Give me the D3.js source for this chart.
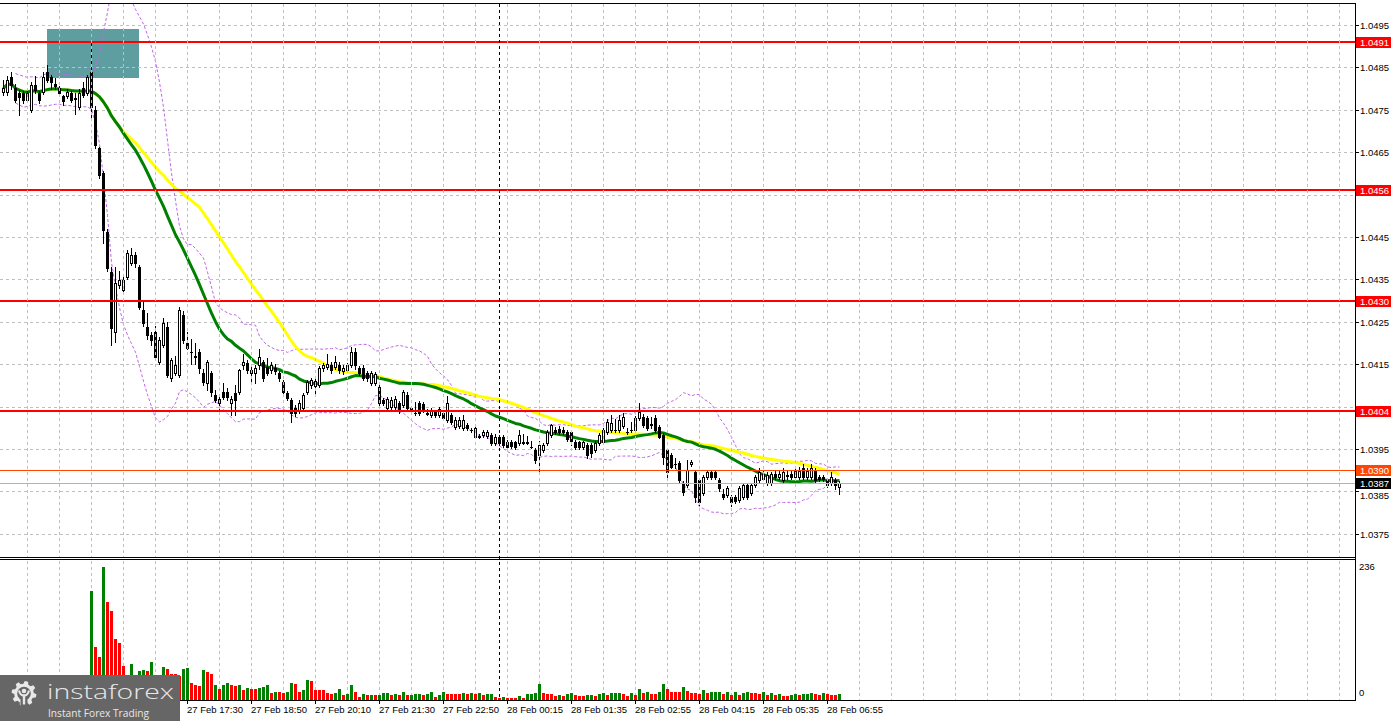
<!DOCTYPE html>
<html><head><meta charset="utf-8">
<script src="https://cdn.jsdelivr.net/npm/d3@7"></script>
<style>html,body{margin:0;padding:0;background:#fff;}svg{display:block;}</style>
</head><body>
<svg id="chart" width="1396" height="721"></svg>
<script>
// ---------- DATA (EURUSD M5) ----------
const opens = [1.04792,1.04792,1.04827,1.04801,1.04790,1.04790,1.04773,1.04750,1.04809,1.04790,
1.04792,1.04840,1.04827,1.04810,1.04801,1.04782,1.04782,1.04790,1.04778,1.04757,
1.04801,1.04790,1.04840,1.04750,1.04660,1.04600,1.04462,1.04368,1.04226,1.04337,
1.04325,1.04356,1.04389,1.04408,1.04379,1.04278,1.04238,1.04219,1.04226,1.04155,
1.04195,1.04238,1.04118,1.04130,1.04125,1.04266,1.04200,1.04180,1.04170,1.04179,
1.04130,1.04106,1.04130,1.04078,1.04059,1.04085,1.04085,1.04059,1.04082,1.04085,
1.04148,1.04153,1.04130,1.04130,1.04148,1.04155,1.04143,1.04137,1.04141,1.04130,
1.04108,1.04082,1.04066,1.04047,1.04040,1.04047,1.04085,1.04101,1.04099,1.04101,
1.04141,1.04143,1.04148,1.04143,1.04148,1.04134,1.04137,1.04148,1.04179,1.04141,
1.04141,1.04130,1.04106,1.04106,1.04096,1.04066,1.04047,1.04050,1.04050,1.04059,
1.04054,1.04078,1.04047,1.04036,1.04059,1.04056,1.04034,1.04030,1.04037,1.04030,
1.04035,1.04019,1.04030,1.04002,1.04005,1.04000,1.04007,1.03996,1.03979,1.03980,
1.03983,1.03980,1.03983,1.03965,1.03979,1.03979,1.03967,1.03967,1.03967,1.03965,
1.03966,1.03966,1.03956,1.03948,1.03936,1.03948,1.03965,1.03983,1.03995,1.03998,
1.03996,1.03990,1.03990,1.03967,1.03967,1.03955,1.03960,1.03960,1.03948,1.03965,
1.03967,1.03990,1.03995,1.03996,1.03995,1.04005,1.03991,1.03995,1.03995,1.04023,
1.04026,1.04023,1.04008,1.04023,1.04002,1.03983,1.03948,1.03936,1.03915,1.03917,
1.03870,1.03865,1.03915,1.03896,1.03877,1.03847,1.03884,1.03896,1.03896,1.03877,
1.03844,1.03842,1.03837,1.03837,1.03830,1.03837,1.03865,1.03847,1.03865,1.03877,
1.03880,1.03870,1.03870,1.03892,1.03885,1.03877,1.03888,1.03892,1.03884,1.03884,
1.03906,1.03884,1.03884,1.03901,1.03884,1.03884,1.03877,1.03870,1.03877,1.03861];

const highs = [1.04820,1.04830,1.04838,1.04810,1.04796,1.04795,1.04800,1.04815,1.04830,1.04795,
1.04838,1.04855,1.04832,1.04825,1.04806,1.04786,1.04800,1.04795,1.04790,1.04800,
1.04815,1.04832,1.04910,1.04760,1.04662,1.04605,1.04470,1.04379,1.04379,1.04370,
1.04360,1.04419,1.04425,1.04415,1.04385,1.04300,1.04270,1.04225,1.04240,1.04215,
1.04260,1.04250,1.04165,1.04170,1.04285,1.04275,1.04225,1.04210,1.04200,1.04185,
1.04140,1.04160,1.04135,1.04090,1.04072,1.04105,1.04095,1.04075,1.04100,1.04140,
1.04175,1.04160,1.04145,1.04148,1.04185,1.04160,1.04165,1.04155,1.04150,1.04135,
1.04112,1.04088,1.04070,1.04055,1.04065,1.04082,1.04112,1.04118,1.04115,1.04145,
1.04152,1.04175,1.04155,1.04170,1.04155,1.04148,1.04152,1.04190,1.04188,1.04146,
1.04148,1.04135,1.04135,1.04132,1.04100,1.04070,1.04072,1.04072,1.04075,1.04064,
1.04090,1.04084,1.04052,1.04060,1.04064,1.04060,1.04045,1.04048,1.04042,1.04050,
1.04040,1.04075,1.04036,1.04025,1.04025,1.04030,1.04012,1.04000,1.04005,1.03985,
1.03995,1.03995,1.03988,1.03985,1.03984,1.03984,1.03972,1.03972,1.03970,1.03995,
1.03985,1.03980,1.03970,1.03952,1.03968,1.03965,1.03995,1.04010,1.04002,1.04004,
1.04002,1.03995,1.03995,1.03972,1.03970,1.03970,1.03965,1.03964,1.03970,1.03988,
1.04000,1.04020,1.04030,1.04020,1.04030,1.04035,1.04000,1.04015,1.04028,1.04058,
1.04032,1.04028,1.04025,1.04030,1.04006,1.03988,1.03952,1.03940,1.03930,1.03922,
1.03874,1.03925,1.03925,1.03900,1.03882,1.03890,1.03900,1.03900,1.03900,1.03882,
1.03855,1.03862,1.03842,1.03842,1.03862,1.03870,1.03870,1.03870,1.03890,1.03905,
1.03900,1.03895,1.03895,1.03900,1.03900,1.03905,1.03900,1.03898,1.03905,1.03908,
1.03915,1.03905,1.03915,1.03906,1.03890,1.03890,1.03882,1.03895,1.03882,1.03875];

const lows = [1.04785,1.04785,1.04800,1.04768,1.04738,1.04765,1.04768,1.04745,1.04790,1.04765,
1.04788,1.04815,1.04800,1.04798,1.04785,1.04762,1.04778,1.04768,1.04740,1.04752,
1.04780,1.04785,1.04730,1.04660,1.04590,1.04436,1.04370,1.04195,1.04202,1.04330,
1.04318,1.04350,1.04385,1.04380,1.04280,1.04240,1.04210,1.04195,1.04160,1.04150,
1.04190,1.04120,1.04110,1.04125,1.04120,1.04200,1.04185,1.04150,1.04150,1.04130,
1.04100,1.04090,1.04075,1.04060,1.04040,1.04068,1.04065,1.04030,1.04030,1.04080,
1.04140,1.04130,1.04110,1.04105,1.04140,1.04110,1.04125,1.04130,1.04128,1.04110,
1.04080,1.04065,1.04015,1.04028,1.04035,1.04042,1.04080,1.04095,1.04075,1.04096,
1.04135,1.04138,1.04130,1.04138,1.04130,1.04128,1.04132,1.04144,1.04140,1.04125,
1.04112,1.04110,1.04100,1.04100,1.04055,1.04055,1.04040,1.04045,1.04045,1.04035,
1.04050,1.04042,1.04035,1.04030,1.04030,1.04038,1.04030,1.04026,1.04026,1.04026,
1.04018,1.04014,1.04008,1.03998,1.04000,1.03996,1.03995,1.03990,1.03975,1.03975,
1.03978,1.03975,1.03960,1.03960,1.03960,1.03955,1.03950,1.03952,1.03950,1.03960,
1.03962,1.03962,1.03952,1.03918,1.03896,1.03944,1.03960,1.03978,1.03985,1.03985,
1.03985,1.03970,1.03960,1.03950,1.03950,1.03950,1.03930,1.03932,1.03944,1.03960,
1.03962,1.03985,1.03990,1.03990,1.03990,1.04000,1.03985,1.03990,1.03990,1.04018,
1.04002,1.03995,1.04000,1.03990,1.03975,1.03915,1.03880,1.03905,1.03905,1.03870,
1.03842,1.03860,1.03910,1.03825,1.03818,1.03842,1.03880,1.03880,1.03880,1.03852,
1.03832,1.03838,1.03815,1.03822,1.03826,1.03832,1.03832,1.03842,1.03860,1.03872,
1.03876,1.03866,1.03866,1.03880,1.03880,1.03872,1.03880,1.03880,1.03880,1.03880,
1.03880,1.03880,1.03880,1.03872,1.03875,1.03875,1.03860,1.03865,1.03855,1.03845];

const closes = [1.04801,1.04820,1.04809,1.04773,1.04780,1.04773,1.04790,1.04809,1.04797,1.04773,
1.04827,1.04820,1.04815,1.04805,1.04790,1.04771,1.04792,1.04773,1.04775,1.04790,
1.04785,1.04827,1.04757,1.04667,1.04596,1.04467,1.04377,1.04236,1.04342,1.04349,
1.04349,1.04412,1.04408,1.04389,1.04285,1.04247,1.04219,1.04207,1.04167,1.04207,
1.04247,1.04125,1.04160,1.04148,1.04278,1.04207,1.04188,1.04178,1.04168,1.04141,
1.04108,1.04155,1.04085,1.04066,1.04068,1.04073,1.04073,1.04068,1.04066,1.04137,
1.04155,1.04137,1.04137,1.04141,1.04167,1.04118,1.04130,1.04148,1.04134,1.04118,
1.04085,1.04070,1.04035,1.04035,1.04059,1.04078,1.04108,1.04113,1.04110,1.04141,
1.04148,1.04150,1.04137,1.04155,1.04137,1.04141,1.04148,1.04179,1.04148,1.04130,
1.04118,1.04118,1.04130,1.04128,1.04059,1.04059,1.04068,1.04066,1.04068,1.04040,
1.04085,1.04047,1.04040,1.04034,1.04035,1.04042,1.04033,1.04042,1.04030,1.04044,
1.04023,1.04059,1.04014,1.04019,1.04019,1.04019,1.04000,1.03995,1.04000,1.03979,
1.03990,1.03990,1.03965,1.03979,1.03965,1.03960,1.03955,1.03958,1.03955,1.03983,
1.03965,1.03964,1.03955,1.03924,1.03960,1.03960,1.03990,1.04007,1.03990,1.03990,
1.03990,1.03974,1.03968,1.03955,1.03955,1.03967,1.03936,1.03940,1.03965,1.03983,
1.03995,1.04014,1.04012,1.03995,1.04019,1.04026,1.03990,1.03996,1.04023,1.04037,
1.04007,1.04000,1.04007,1.03995,1.03979,1.03931,1.03896,1.03908,1.03914,1.03877,
1.03849,1.03901,1.03920,1.03837,1.03825,1.03884,1.03896,1.03884,1.03884,1.03858,
1.03837,1.03858,1.03825,1.03828,1.03858,1.03865,1.03837,1.03865,1.03884,1.03896,
1.03892,1.03888,1.03891,1.03885,1.03892,1.03896,1.03887,1.03885,1.03898,1.03898,
1.03884,1.03898,1.03906,1.03877,1.03880,1.03880,1.03865,1.03884,1.03865,1.03870];

const volumes = [18,22,15,20,17,25,19,28,21,16,
30,24,20,14,18,22,17,15,24,20,
26,21,194,94,76,236,174,158,108,101,
61,40,63,40,52,54,51,67,38,43,
58,55,47,46,43,55,57,30,26,25,
54,50,46,26,20,27,31,26,24,26,
17,21,20,20,21,23,26,13,15,14,
12,15,31,29,15,17,35,33,18,18,
18,13,11,13,20,9,11,26,15,6,
11,8,9,8,9,13,13,9,11,9,
15,8,9,11,11,9,11,15,6,9,
14,11,11,11,11,13,11,13,11,13,
9,11,11,5,4,5,4,4,4,7,
4,10,10,13,28,13,11,10,7,8,
7,10,13,8,7,7,9,9,7,11,
13,8,12,12,13,11,7,12,8,20,
12,14,11,11,15,28,20,14,14,14,
23,16,12,12,11,17,12,15,15,15,
10,15,8,14,8,12,14,13,13,11,
14,8,12,8,10,7,7,8,11,8,
11,11,12,11,8,12,10,8,8,10];

// 1 = green volume bar, 0 = red volume bar
const volumeUp = [1,1,0,1,0,1,0,1,0,0, 1,0,0,0,1,1,0,0,1,0,
1,0,1,0,0,1,0,0,0,0, 0,0,1,0,1,1,0,1,0,1,
1,0,0,0,0,1,1,0,0,0, 1,0,0,1,0,1,1,0,0,1,
0,1,0,0,1,1,1,0,1,0, 0,1,1,0,0,1,1,0,0,0,
0,0,0,1,1,0,1,1,0,0, 1,0,1,0,1,1,1,0,1,0,
1,0,1,1,1,0,1,1,0,1, 1,0,0,0,0,1,0,1,0,1,
0,1,1,0,0,1,0,0,0,1, 0,1,1,1,1,0,0,0,0,1,
0,1,1,0,0,0,1,1,0,1, 1,0,1,1,1,0,0,1,0,1,
0,1,0,0,1,1,0,0,0,0, 1,0,0,0,0,1,0,1,1,1,
0,1,0,1,0,1,1,0,0,0, 1,0,1,0,1,0,0,1,1,0,
1,1,1,0,0,1,0,0,0,1];

const priceTicks = [1.0375,1.0385,1.0395,1.0405,1.0415,1.0425,1.0435,1.0445,1.0455,1.0465,1.0475,1.0485,1.0495];
const hiddenTickLabels = [1.0405,1.0455];                 // covered by the level tags in the picture
const levelPrices = [1.0491,1.0456,1.0430,1.0404];           // red support/resistance lines
const orangeLevel = 1.0390;
const lastPrice = 1.0387;
const timeLabels = ["27 Feb 17:30","27 Feb 18:50","27 Feb 20:10","27 Feb 21:30",
  "27 Feb 22:50","28 Feb 00:15","28 Feb 01:35","28 Feb 02:55","28 Feb 04:15","28 Feb 05:35","28 Feb 06:55"];
const timeLabelBars = [46,62,78,94,110,126,142,158,174,190,206];
const daySeparatorBar = 124;
const zoneBox = {fromBar: 11, toBar: 34, top: 1.04940, bottom: 1.04825};
const volumeMax = 236;

// ---------- LAYOUT ----------
const svg = d3.select("#chart");
const plotR = 1355;
const mainTop = 3, mainBot = 557, volTop = 560, volBot = 700;
const x = d3.scaleLinear().domain([0, 1]).range([3.5, 7.5]);
const y = d3.scaleLinear().domain([1.0375, 1.0495]).range([533.9, 25]);
const yv = d3.scaleLinear().domain([0, volumeMax]).range([volBot, 567]);
const FONT = "'Liberation Sans', Arial, sans-serif";
const px = v => Math.round(v) + 0.5;

svg.append("rect").attr("width",1396).attr("height",721).attr("fill","#fff");

const defs = svg.append("defs");
defs.append("clipPath").attr("id","mainClip").append("rect")
  .attr("x",0).attr("y",mainTop+1).attr("width",plotR).attr("height",mainBot-mainTop-1);

const main = svg.append("g").attr("clip-path","url(#mainClip)");

// zone box
main.append("rect")
  .attr("x", x(zoneBox.fromBar)-0.5).attr("y", Math.round(y(zoneBox.top)))
  .attr("width", x(zoneBox.toBar)-x(zoneBox.fromBar))
  .attr("height", Math.round(y(zoneBox.bottom))-Math.round(y(zoneBox.top)))
  .attr("fill","#5f9ea0");

// grid
const gridColor = "#c0c0c0";
main.selectAll("line.hg").data(priceTicks).join("line")
  .attr("x1",0).attr("x2",plotR).attr("y1",d=>px(y(d))).attr("y2",d=>px(y(d)))
  .attr("stroke",gridColor).attr("stroke-dasharray","3,3");
const vgrid = d3.range(6, 400, 8).filter(i => x(i) < plotR);
svg.selectAll("line.vg").data(vgrid).join("line")
  .attr("x1",d=>x(d)).attr("x2",d=>x(d)).attr("y1",mainTop+1).attr("y2",mainBot)
  .attr("stroke",gridColor).attr("stroke-dasharray","3,3");
svg.selectAll("line.vg2").data(vgrid).join("line")
  .attr("x1",d=>x(d)).attr("x2",d=>x(d)).attr("y1",volTop+1).attr("y2",volBot)
  .attr("stroke",gridColor).attr("stroke-dasharray","3,3");

// day separator
svg.append("line").attr("x1",x(daySeparatorBar)).attr("x2",x(daySeparatorBar))
  .attr("y1",mainTop+1).attr("y2",volBot).attr("stroke","#000").attr("stroke-dasharray","3,3");

// indicators from closes (MA 30 green, MA 50 yellow, Bollinger 20)
function sma(arr, n) {
  return arr.map((_, i) => { const s = arr.slice(Math.max(0, i-n+1), i+1); return d3.mean(s); });
}
const ma30 = sma(closes, 30);
const ma50 = sma(closes, 50);
const bb = closes.map((_, i) => {
  const s = closes.slice(Math.max(0, i-19), i+1);
  const m = d3.mean(s);
  const sd = Math.sqrt(d3.mean(s, v => (v-m)*(v-m)));
  return {i, up: m + 2*sd, dn: m - 2*sd};
}).filter(d => d.i >= 3);

const lineGen = d3.line().x(d => x(d[0])).y(d => y(d[1]));
const bbColor = "#c066e6";
main.append("path").attr("d", lineGen(bb.map(d=>[d.i,d.up]))).attr("fill","none")
  .attr("stroke",bbColor).attr("stroke-width",1).attr("stroke-dasharray","3,2");
main.append("path").attr("d", lineGen(bb.map(d=>[d.i,d.dn]))).attr("fill","none")
  .attr("stroke",bbColor).attr("stroke-width",1).attr("stroke-dasharray","3,2");
main.append("path").attr("d", lineGen(ma50.map((v,i)=>[i,v]))).attr("fill","none")
  .attr("stroke","#ffff00").attr("stroke-width",3).attr("stroke-linejoin","round");
main.append("path").attr("d", lineGen(ma30.map((v,i)=>[i,v]))).attr("fill","none")
  .attr("stroke","#008000").attr("stroke-width",3).attr("stroke-linejoin","round");

// candles
const candles = closes.map((c, i) => ({i, o: opens[i], h: Math.max(highs[i], opens[i], c), l: Math.min(lows[i], opens[i], c), c}));
const cg = main.append("g");
candles.forEach(d => {
  const cx = x(d.i);
  cg.append("line").attr("x1",cx).attr("x2",cx)
    .attr("y1",Math.round(y(d.h))).attr("y2",Math.round(y(d.l))+1).attr("stroke","#000");
  const yt = Math.round(y(Math.max(d.o,d.c))), yb = Math.round(y(Math.min(d.o,d.c)));
  if (d.c > d.o && yb - yt >= 2) {
    cg.append("rect").attr("x",cx-1).attr("y",yt+0.5).attr("width",2).attr("height",yb-yt)
      .attr("fill","#fff").attr("stroke","#000").attr("stroke-width",1);
  } else {
    cg.append("rect").attr("x",cx-1.5).attr("y",yt).attr("width",3).attr("height",Math.max(1,yb-yt+1))
      .attr("fill","#000");
  }
});

// horizontal levels
main.selectAll("line.lvl").data(levelPrices).join("line")
  .attr("x1",0).attr("x2",plotR).attr("y1",d=>Math.round(y(d))).attr("y2",d=>Math.round(y(d)))
  .attr("stroke","#ff0000").attr("stroke-width",2);
main.append("line").attr("x1",0).attr("x2",plotR).attr("y1",px(y(orangeLevel))).attr("y2",px(y(orangeLevel)))
  .attr("stroke","#ff4500").attr("stroke-width",1);
main.append("line").attr("x1",0).attr("x2",plotR).attr("y1",px(y(lastPrice))).attr("y2",px(y(lastPrice)))
  .attr("stroke","#b4b4b4").attr("stroke-width",1);

// volume bars
svg.append("g").selectAll("rect").data(volumes).join("rect")
  .attr("x",(d,i)=>x(i)-1.5).attr("width",3)
  .attr("y",d=>Math.round(yv(d))).attr("height",d=>volBot-Math.round(yv(d)))
  .attr("fill",(d,i)=>volumeUp[i] ? "#008000" : "#ff0000");

// frames
const frame = svg.append("g").attr("stroke","#000").attr("stroke-width",1);
frame.append("line").attr("x1",0).attr("x2",plotR+0.5).attr("y1",mainTop+0.5).attr("y2",mainTop+0.5);
frame.append("line").attr("x1",0).attr("x2",plotR+0.5).attr("y1",mainBot+0.5).attr("y2",mainBot+0.5);
frame.append("line").attr("x1",0).attr("x2",plotR+0.5).attr("y1",volTop-0.5).attr("y2",volTop-0.5);
frame.append("line").attr("x1",0).attr("x2",plotR+0.5).attr("y1",volBot+0.5).attr("y2",volBot+0.5);
frame.append("line").attr("x1",plotR+0.5).attr("x2",plotR+0.5).attr("y1",mainTop).attr("y2",volBot+1);

// right price axis
const axisG = svg.append("g").attr("font-family",FONT).attr("font-size","9.5px").attr("fill","#000");
const tagYs = [...levelPrices, orangeLevel, lastPrice].map(p => Math.round(y(p)));
priceTicks.forEach(p => {
  const yy = px(y(p));
  svg.append("line").attr("x1",plotR).attr("x2",plotR+4).attr("y1",yy).attr("y2",yy).attr("stroke","#000");
  if (hiddenTickLabels.includes(p)) return;
  // a label partly covered by a tag is nudged just below it
  const near = tagYs.find(t => Math.abs(t - yy) < 12 && t < yy);
  const ly = near !== undefined ? Math.max(yy, near + 13) : yy;
  axisG.append("text").attr("x",1360).attr("y",ly).attr("dy","0.35em").text(p.toFixed(4));
});
function tagLabel(p, bg, fg) {
  const yy = Math.round(y(p));
  svg.append("rect").attr("x",1356).attr("y",yy-5).attr("width",35).attr("height",11).attr("fill",bg);
  svg.append("text").attr("x",1360).attr("y",yy+0.5).attr("dy","0.35em")
    .attr("font-family",FONT).attr("font-size","9.5px").attr("fill",fg).text(p.toFixed(4));
}
levelPrices.forEach(p => tagLabel(p, "#ff0000", "#fff"));
tagLabel(orangeLevel, "#ff4500", "#fff");
tagLabel(lastPrice, "#000", "#fff");
// volume axis
axisG.append("text").attr("x",1359).attr("y",567).attr("dy","0.35em").text(String(volumeMax));
axisG.append("text").attr("x",1359).attr("y",693).attr("dy","0.35em").text("0");

// time axis
timeLabelBars.forEach((b, k) => {
  const xx = x(b);
  svg.append("line").attr("x1",xx).attr("x2",xx).attr("y1",volBot).attr("y2",volBot+4).attr("stroke","#000");
  svg.append("text").attr("x",xx-0.5).attr("y",713).attr("font-family",FONT).attr("font-size","9.5px")
    .attr("fill","#000").text(timeLabels[k]);
});

// logo
const logo = svg.append("g");
logo.append("rect").attr("x",0).attr("y",675).attr("width",180).attr("height",46).attr("fill","#666666");
const gcx = 24, gcy = 693.5;
const gear = d3.path();
const teeth = 8;
for (let t = 0; t < teeth*2; t++) {
  const a0 = (t/(teeth*2))*2*Math.PI - Math.PI/2, a1 = ((t+1)/(teeth*2))*2*Math.PI - Math.PI/2;
  const r = t % 2 === 0 ? 12.5 : 9.8;
  const p0 = [gcx + r*Math.cos(a0+0.06), gcy + r*Math.sin(a0+0.06)];
  const p1 = [gcx + r*Math.cos(a1-0.06), gcy + r*Math.sin(a1-0.06)];
  if (t === 0) gear.moveTo(p0[0], p0[1]); else gear.lineTo(p0[0], p0[1]);
  gear.lineTo(p1[0], p1[1]);
}
gear.closePath();
logo.append("path").attr("d", gear.toString()).attr("fill","#e8e8e8");
logo.append("circle").attr("cx",gcx).attr("cy",gcy).attr("r",6.8).attr("fill","#666666");
logo.append("rect").attr("x",gcx-3.5).attr("y",gcy+3).attr("width",7).attr("height",10).attr("fill","#666666");
logo.append("circle").attr("cx",gcx).attr("cy",gcy-2.5).attr("r",2.3).attr("fill","#e8e8e8");
logo.append("path").attr("d",`M${gcx-5},${gcy-3} Q${gcx-4},${gcy+2} ${gcx},${gcy+2} Q${gcx+4},${gcy+2} ${gcx+5},${gcy-3}`)
  .attr("fill","none").attr("stroke","#e8e8e8").attr("stroke-width",2);
logo.append("rect").attr("x",gcx-1.2).attr("y",gcy+1).attr("width",2.4).attr("height",10).attr("fill","#e8e8e8");
logo.append("text").attr("x",47).attr("y",699).attr("font-family","'Open Sans', 'Noto Sans', sans-serif")
  .attr("font-size","21px").attr("font-weight",300).attr("fill","#e8e8e8")
  .attr("textLength",127).attr("lengthAdjust","spacingAndGlyphs").text("instaforex");
logo.append("text").attr("x",48).attr("y",717).attr("font-family","'Open Sans', 'Noto Sans', sans-serif")
  .attr("font-size","11.5px").attr("fill","#e8e8e8")
  .attr("textLength",101).attr("lengthAdjust","spacingAndGlyphs").text("Instant Forex Trading");
</script>
</body></html>
